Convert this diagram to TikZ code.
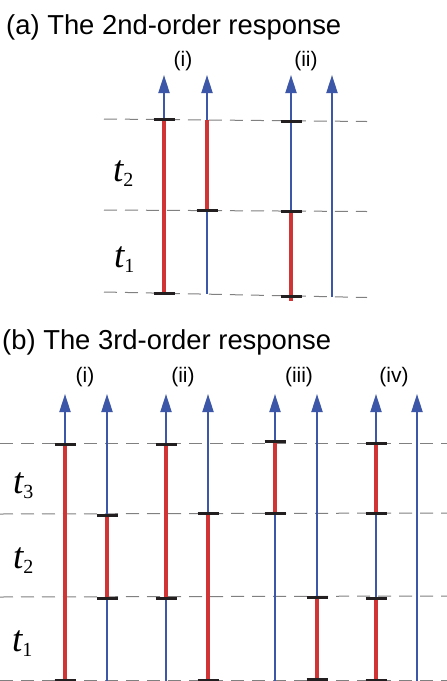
\documentclass[tikz,border=0pt]{standalone}
\usepackage{fontspec}
\setmainfont{Liberation Sans}
\newfontfamily\tfont{Liberation Serif}
\usetikzlibrary{arrows.meta}
\definecolor{myred}{RGB}{208,52,52}
\definecolor{myblue}{RGB}{60,86,168}
\definecolor{tickc}{RGB}{35,31,32}
\definecolor{dashc}{RGB}{128,128,128}
\newcommand{\mytick}[2]{\draw[tickmark] ({#1-10.5},#2) -- ({#1+10.5},#2);}
\newcommand{\tlab}[1]{{\tfont\fontsize{37}{37}\selectfont\itshape t}\raisebox{-5pt}{\tfont\fontsize{20}{20}\selectfont #1}}
\begin{document}
\begin{tikzpicture}[x=1pt,y=-1pt,
 dashline/.style={draw=dashc,line width=1pt,dash pattern=on 13pt off 8pt},
 redseg/.style={draw=myred,line width=4pt},
 blueseg/.style={draw=myblue,line width=2pt},
 bluearrow/.style={draw=myblue,line width=2pt,-{Triangle[length=18pt,width=11pt]}},
 tickmark/.style={draw=tickc,line width=3pt},
 title/.style={font=\fontsize{27.4}{30}\selectfont,anchor=base west,inner sep=0pt},
 lab/.style={font=\fontsize{21}{24}\selectfont,anchor=base,inner sep=0pt},
 tl/.style={anchor=base west,inner sep=0pt}]
\useasboundingbox[fill=white] (0,0) rectangle (447,681);
% ---------- (a) ----------
\node[title] (ta) at (6,34) {(a) The 2nd-order response};
\node[lab] (ai) at (183,66.5) {(i)};
\node[lab] (aii) at (306,66.5) {(ii)};
\node[tl] (at2) at (113,181) {\tlab{2}};
\node[tl] (at1) at (114,267) {\tlab{1}};
\draw[dashline] (104,119) -- (367,121.5);
\draw[dashline] (104,210) -- (367,211.5);
\draw[dashline] (104,292) -- (367,297.5);
% (i) left
\draw[redseg] (164,119) -- (164,293);
\draw[bluearrow] (164,119) -- (164,75);
\mytick{164}{119}\mytick{164}{293}
% (i) right
\draw[redseg] (207,119.5) -- (207,210.5);
\draw[blueseg] (207,210.5) -- (207,294);
\draw[bluearrow] (207,119.5) -- (207,75);
\mytick{207}{210.5}
% (ii) left
\draw[redseg] (291,211) -- (291,301);
\draw[bluearrow] (291,211) -- (291,75);
\mytick{291}{121.5}\mytick{291}{211.3}\mytick{291}{296}
% (ii) right
\draw[bluearrow] (332,297) -- (332,75);
% ---------- (b) ----------
\node[title] (tb) at (2,349.5) {(b) The 3rd-order response};
\node[lab] (bi) at (85,382.5) {(i)};
\node[lab] (bii) at (183,382.5) {(ii)};
\node[lab] (biii) at (299,382.5) {(iii)};
\node[lab] (biv) at (394,382.5) {(iv)};
\node[tl] (bt3) at (13,493) {\tlab{3}};
\node[tl] (bt2) at (13,568) {\tlab{2}};
\node[tl] (bt1) at (12,651) {\tlab{1}};
\draw[dashline] (0,443) -- (447,443);
\draw[dashline] (0,514) -- (447,513);
\draw[dashline] (0,597) -- (447,596);
\draw[dashline] (0,680) -- (447,680);
% (i)
\draw[redseg] (65,444) -- (65,682);
\draw[bluearrow] (65,444) -- (65,394);
\mytick{65}{444}\mytick{65}{680}
\draw[redseg] (107,515) -- (107,598);
\draw[blueseg] (107,598) -- (107,682);
\draw[bluearrow] (107,515) -- (107,394);
\mytick{107}{515}\mytick{107}{598}
% (ii)
\draw[redseg] (166,444) -- (166,598);
\draw[blueseg] (166,598) -- (166,682);
\draw[bluearrow] (166,444) -- (166,394);
\mytick{166}{444}\mytick{166}{598}
\draw[redseg] (208,513) -- (208,682);
\draw[bluearrow] (208,513) -- (208,394);
\mytick{208}{513}\mytick{208}{680}
% (iii)
\draw[redseg] (275,441) -- (275,513);
\draw[blueseg] (275,513) -- (275,682);
\draw[bluearrow] (275,441) -- (275,394);
\mytick{275}{441}\mytick{275}{513}
\draw[redseg] (317,597) -- (317,680);
\draw[bluearrow] (317,597) -- (317,394);
\mytick{317}{597}\mytick{317}{679.5}
% (iv)
\draw[redseg] (376,443) -- (376,513);
\draw[blueseg] (376,513) -- (376,598);
\draw[redseg] (376,598) -- (376,682);
\draw[bluearrow] (376,443) -- (376,394);
\mytick{376}{443}\mytick{376}{513}\mytick{376}{598}\mytick{376}{680}
\draw[bluearrow] (417,682) -- (417,394);
\end{tikzpicture}
\end{document}
